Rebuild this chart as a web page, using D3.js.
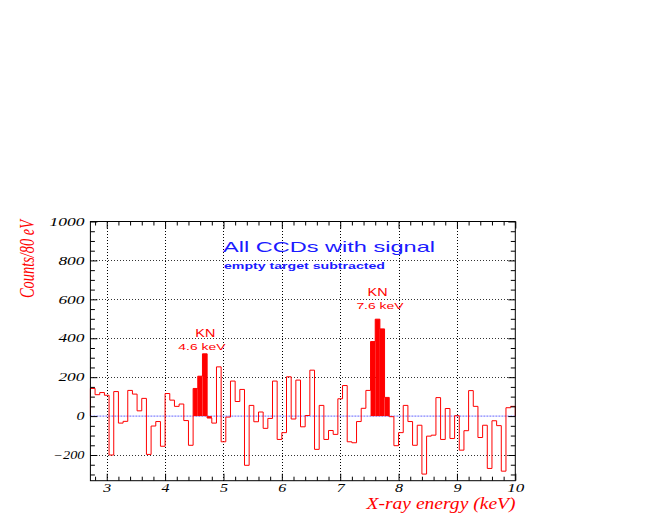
<!DOCTYPE html>
<html><head><meta charset="utf-8">
<script src="https://cdn.jsdelivr.net/npm/d3@7"></script>
<style>html,body{margin:0;padding:0;background:#fff;} svg{display:block;}</style>
</head><body>
<svg id="chart" width="654" height="518"></svg>
<script>
// ---- data ----
const binStartKeV = 2.72;   // low edge of first 80 eV bin
const binWidthKeV = 0.08;   // 80 eV bins
const counts = [
  142, 110, 121, 107, -200, 126, -36, -27, 132, 113,
  27, 91, -197, -51, -28, -155, 116, 82, 50, 62,
  -23, -150, 142, 205, 320, -10, -36, 253, -132, -5,
  180, 75, 137, -253, 55, -29, 21, -63, -12, 180,
  -120, -85, 202, -15, 185, -55, 3, 236, -171, 55,
  -120, -74, -94, 89, 157, -132, -137, -28, 40, 132,
  383, 498, 448, 96, -3, -152, -85, 55, -28, -150,
  -47, -298, -103, -98, 95, -120, 39, -115, 2, -175,
  -75, 131, 50, -110, -47, -269, -24, -49, -283, 43, 50
];
const peakNames = ["KN", "KN"];
const peakEnergies = ["4.6 keV", "7.6 keV"];
const peakFirstBin = [22, 60];
const peakLastBin = [25, 63];
const xMajorTicks = [3, 4, 5, 6, 7, 8, 9, 10];
const yMajorTicks = [-200, 0, 200, 400, 600, 800, 1000];
const titleText = "All CCDs with signal";
const subtitleText = "empty target subtracted";
const xTitleText = "X-ray energy (keV)";
const yTitleText = "Counts/80 eV";

// ---- layout ----
const svg = d3.select("#chart");
const L = 90.4, R = 515.3, T = 221.5, B = 480.7;
const x = d3.scaleLinear().domain([2.72, 10]).range([L, R]);
const y = d3.scaleLinear().domain([-332, 1000]).range([B, T]);

const lo = i => binStartKeV + i * binWidthKeV;
const hi = i => binStartKeV + (i + 1) * binWidthKeV;

// grid
const grid = svg.append("g").attr("stroke", "#000").attr("stroke-width", 1)
  .attr("stroke-dasharray", "1,2").attr("shape-rendering", "crispEdges");
grid.selectAll("line.v").data(xMajorTicks.filter(t => t < 10)).join("line")
  .attr("x1", d => Math.round(x(d)) + 0.5).attr("x2", d => Math.round(x(d)) + 0.5)
  .attr("y1", T).attr("y2", B);
grid.selectAll("line.h").data(yMajorTicks.filter(t => t !== 0 && t < 1000)).join("line")
  .attr("x1", L).attr("x2", R)
  .attr("y1", d => Math.round(y(d)) + 0.5).attr("y2", d => Math.round(y(d)) + 0.5)
  .attr("stroke", "#333");

// zero line
svg.append("line").attr("x1", L).attr("x2", R).attr("y1", y(0)).attr("y2", y(0))
  .attr("stroke", "#3030ff").attr("stroke-opacity", 0.75).attr("stroke-width", 1)
  .attr("stroke-dasharray", "2,1");

// filled peaks
const fillBins = [];
peakFirstBin.forEach((f, k) => { for (let i = f; i <= peakLastBin[k]; i++) fillBins.push(i); });
svg.append("g").selectAll("rect").data(fillBins).join("rect")
  .attr("x", i => x(lo(i))).attr("width", i => x(hi(i)) - x(lo(i)))
  .attr("y", i => y(Math.max(0, counts[i])))
  .attr("height", i => Math.abs(y(counts[i]) - y(0)))
  .attr("fill", "#ff0000");

// histogram outline
const pts = [[lo(0), 0]];
counts.forEach((v, i) => { pts.push([lo(i), v]); pts.push([hi(i), v]); });
pts.push([hi(counts.length - 1), 0]);
svg.append("path").datum(pts)
  .attr("d", d3.line().x(d => x(d[0])).y(d => y(d[1])))
  .attr("fill", "none").attr("stroke", "#ff0000").attr("stroke-width", 1);

// axes (ticks inward)
const digitLen = s => { let n = 0; for (const c of s) n += (c === "-" || c === "\u2212") ? 5 : 9; return n - 1; };
function styleLabels(g) {
  g.select(".domain").remove();
  g.selectAll(".tick line").attr("stroke", "#000");
  g.selectAll(".tick text")
    .attr("font-family", "'Liberation Serif', 'Times New Roman', serif")
    .attr("font-style", "italic").attr("font-size", 11.5).attr("fill", "#000")
    .attr("lengthAdjust", "spacingAndGlyphs")
    .attr("textLength", function() { return digitLen(this.textContent); });
}
const yMinor = d3.range(-300, 1001, 50).filter(v => v % 200 !== 0);
const xMinor = d3.range(2.8, 10.001, 0.2).map(v => +v.toFixed(1)).filter(v => Math.abs(v - Math.round(v)) > 0.01);

svg.append("g").attr("transform", `translate(${L},0)`)
  .call(d3.axisLeft(y).tickValues(yMajorTicks).tickSize(-7).tickPadding(6).tickFormat(d3.format("d")))
  .call(styleLabels);
svg.append("g").attr("transform", `translate(${L},0)`)
  .call(d3.axisLeft(y).tickValues(yMinor).tickSize(-4.5).tickFormat(""))
  .call(g => { g.select(".domain").remove(); g.selectAll("line").attr("stroke", "#000"); });
svg.append("g").attr("transform", `translate(${R},0)`)
  .call(d3.axisRight(y).tickValues(yMajorTicks).tickSize(-7).tickFormat(""))
  .call(g => { g.select(".domain").remove(); g.selectAll("line").attr("stroke", "#000"); });
svg.append("g").attr("transform", `translate(${R},0)`)
  .call(d3.axisRight(y).tickValues(yMinor).tickSize(-4.5).tickFormat(""))
  .call(g => { g.select(".domain").remove(); g.selectAll("line").attr("stroke", "#000"); });

svg.append("g").attr("transform", `translate(0,${B})`)
  .call(d3.axisBottom(x).tickValues(xMajorTicks).tickSize(-7).tickPadding(3.6).tickFormat(d3.format("d")))
  .call(styleLabels);
svg.append("g").attr("transform", `translate(0,${B})`)
  .call(d3.axisBottom(x).tickValues(xMinor).tickSize(-4).tickFormat(""))
  .call(g => { g.select(".domain").remove(); g.selectAll("line").attr("stroke", "#000"); });
svg.append("g").attr("transform", `translate(0,${T})`)
  .call(d3.axisTop(x).tickValues(xMajorTicks).tickSize(-7).tickFormat(""))
  .call(g => { g.select(".domain").remove(); g.selectAll("line").attr("stroke", "#000"); });
svg.append("g").attr("transform", `translate(0,${T})`)
  .call(d3.axisTop(x).tickValues(xMinor).tickSize(-4).tickFormat(""))
  .call(g => { g.select(".domain").remove(); g.selectAll("line").attr("stroke", "#000"); });

// frame
svg.append("rect").attr("x", L).attr("y", T).attr("width", R - L).attr("height", B - T)
  .attr("fill", "none").attr("stroke", "#000").attr("stroke-width", 1);

// titles
const serif = "'Liberation Serif', 'Times New Roman', serif";
const sans = "'Liberation Sans', Arial, sans-serif";
svg.append("text").attr("x", 366.5).attr("y", 508.5).text(xTitleText)
  .attr("font-family", serif).attr("font-style", "italic").attr("font-size", 16)
  .attr("fill", "#ff0000").attr("textLength", 149).attr("lengthAdjust", "spacingAndGlyphs");
svg.append("text").attr("transform", "translate(34,298) rotate(-90)").text(yTitleText)
  .attr("font-family", serif).attr("font-style", "italic").attr("font-size", 20)
  .attr("fill", "#ff0000").attr("textLength", 78).attr("lengthAdjust", "spacingAndGlyphs");

svg.append("text").attr("x", 223).attr("y", 251.7).text(titleText)
  .attr("font-family", sans).attr("font-size", 15).attr("fill", "#1a1aff")
  .attr("textLength", 212).attr("lengthAdjust", "spacingAndGlyphs");
svg.append("text").attr("x", 224).attr("y", 269).text(subtitleText)
  .attr("font-family", sans).attr("font-weight", "bold").attr("font-size", 8.5).attr("fill", "#1a1aff")
  .attr("textLength", 161).attr("lengthAdjust", "spacingAndGlyphs");

// peak labels
const nameX = [4.69, 7.64], nameY = [407, 616];
const enX = [4.63, 7.68], enY = [339, 548];
peakNames.forEach((n, k) => {
  svg.append("text").attr("x", x(nameX[k])).attr("y", y(nameY[k])).text(n)
    .attr("text-anchor", "middle").attr("font-family", sans).attr("font-size", 10.5)
    .attr("fill", "#ff0000").attr("textLength", 20).attr("lengthAdjust", "spacingAndGlyphs");
  svg.append("text").attr("x", x(enX[k])).attr("y", y(enY[k])).text(peakEnergies[k])
    .attr("text-anchor", "middle").attr("font-family", sans).attr("font-size", 9.5)
    .attr("fill", "#ff0000").attr("textLength", 47).attr("lengthAdjust", "spacingAndGlyphs");
});
</script>
</body></html>
